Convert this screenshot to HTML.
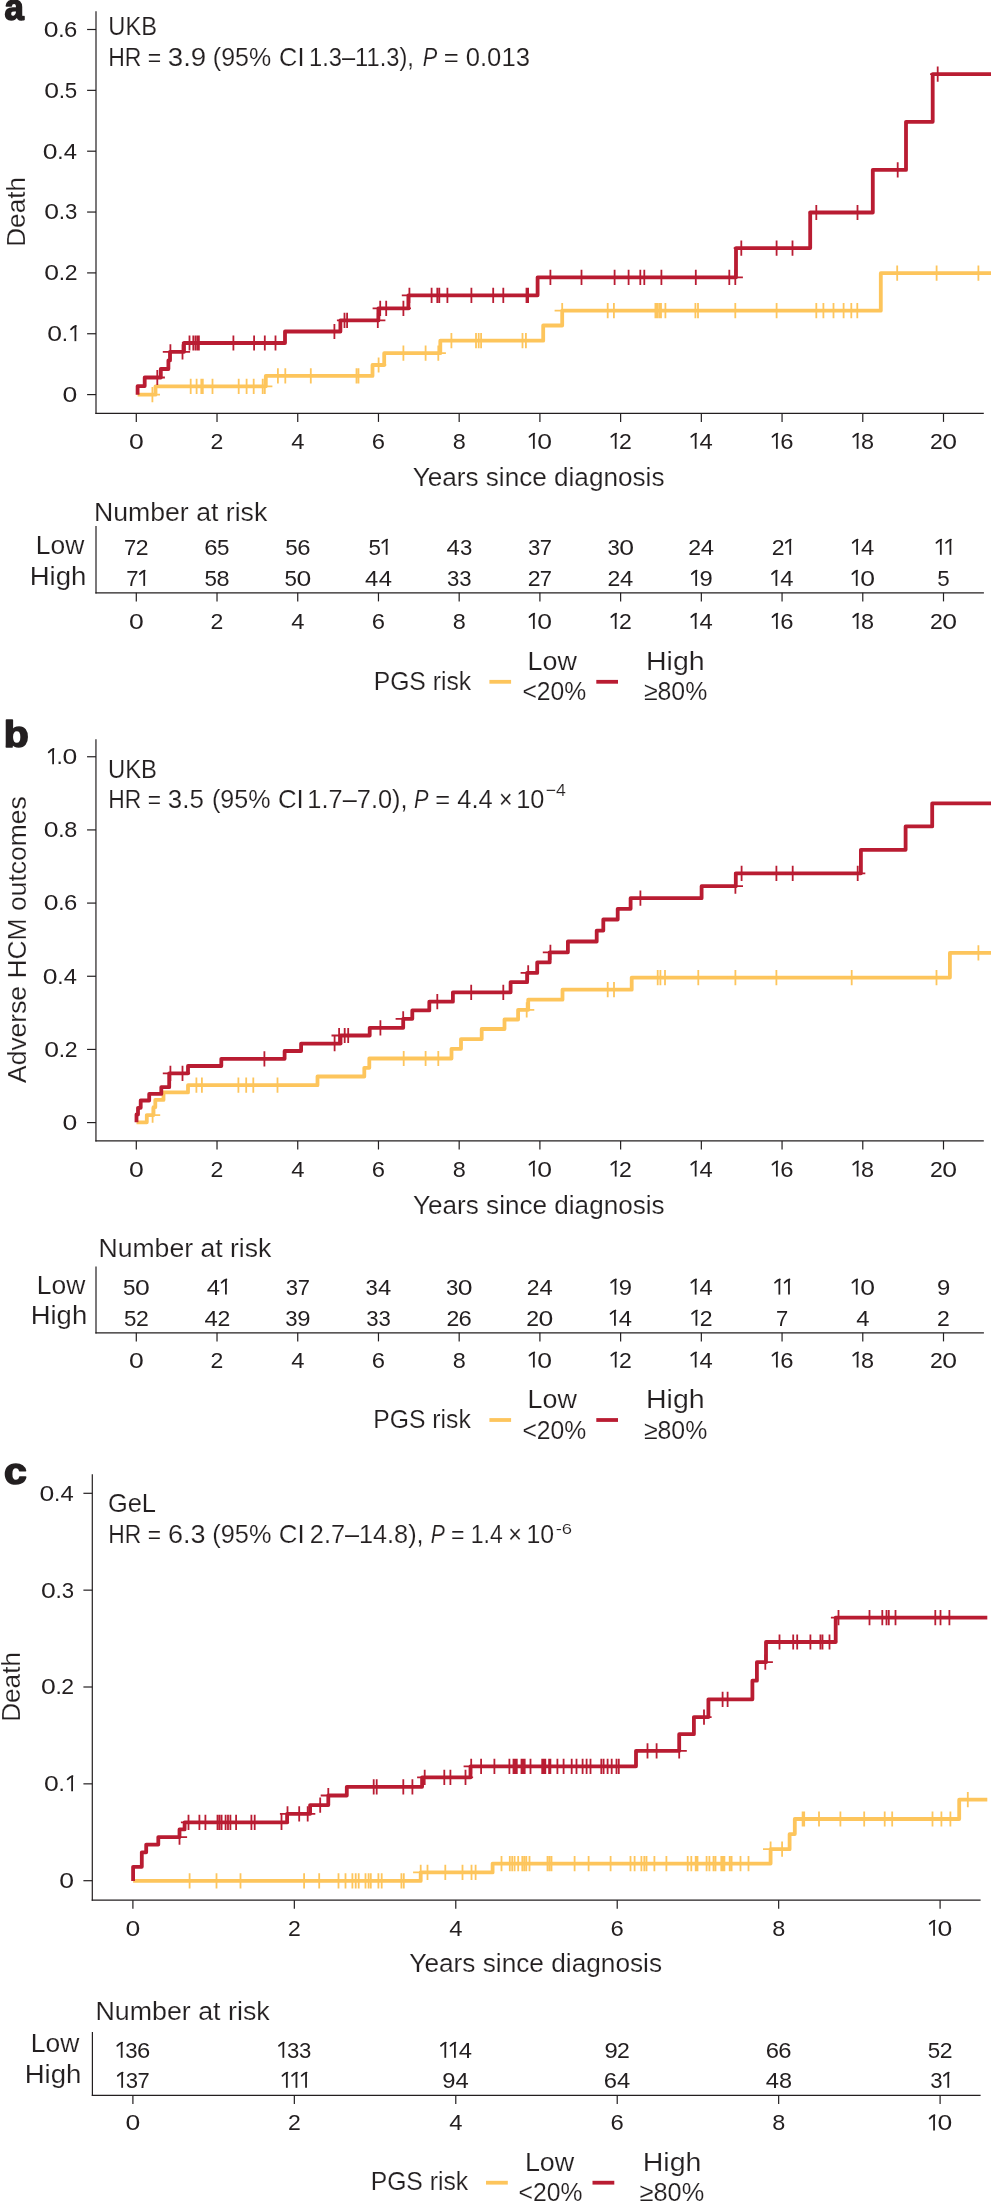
<!DOCTYPE html>
<html><head><meta charset="utf-8"><title>Kaplan-Meier curves</title>
<style>
html,body{margin:0;padding:0;background:#fff;overflow:hidden}
svg{display:block;will-change:transform}
text{font-family:"Liberation Sans",sans-serif;stroke:#fff;stroke-width:0.15px}
</style></head>
<body>
<svg width="991" height="2203" viewBox="0 0 991 2203">
<rect width="991" height="2203" fill="#fff"/>
<text transform="translate(4.54,20.00) scale(0.9474,1)" font-size="36.70" font-weight="bold" fill="#231f20" style="stroke:#231f20;stroke-width:1.6px;stroke-linejoin:round">a</text>
<line x1="96.00" y1="11.30" x2="96.00" y2="413.90" stroke="#231f20" stroke-width="1.2"/>
<line x1="95.40" y1="413.30" x2="983.80" y2="413.30" stroke="#231f20" stroke-width="1.2"/>
<line x1="87.10" y1="29.50" x2="96.00" y2="29.50" stroke="#231f20" stroke-width="1.2"/>
<text transform="translate(43.86,36.90) scale(1.1756,1)" font-size="22.60" fill="#231f20" style="stroke:none">0</text>
<text transform="translate(58.31,36.90) scale(1.0000,1)" font-size="22.60" fill="#231f20" style="stroke:none">.</text>
<text transform="translate(64.09,36.90) scale(1.0548,1)" font-size="22.60" fill="#231f20" style="stroke:none">6</text>
<line x1="87.10" y1="90.35" x2="96.00" y2="90.35" stroke="#231f20" stroke-width="1.2"/>
<text transform="translate(44.26,97.75) scale(1.1756,1)" font-size="22.60" fill="#231f20" style="stroke:none">0</text>
<text transform="translate(58.71,97.75) scale(1.0000,1)" font-size="22.60" fill="#231f20" style="stroke:none">.</text>
<text transform="translate(64.80,97.75) scale(0.9893,1)" font-size="22.60" fill="#231f20" style="stroke:none">5</text>
<line x1="87.10" y1="151.20" x2="96.00" y2="151.20" stroke="#231f20" stroke-width="1.2"/>
<text transform="translate(42.86,158.60) scale(1.1756,1)" font-size="22.60" fill="#231f20" style="stroke:none">0</text>
<text transform="translate(57.31,158.60) scale(1.0000,1)" font-size="22.60" fill="#231f20" style="stroke:none">.</text>
<text transform="translate(63.75,158.60) scale(1.0537,1)" font-size="22.60" fill="#231f20" style="stroke:none">4</text>
<line x1="87.10" y1="212.05" x2="96.00" y2="212.05" stroke="#231f20" stroke-width="1.2"/>
<text transform="translate(44.36,219.45) scale(1.1756,1)" font-size="22.60" fill="#231f20" style="stroke:none">0</text>
<text transform="translate(58.81,219.45) scale(1.0000,1)" font-size="22.60" fill="#231f20" style="stroke:none">.</text>
<text transform="translate(64.96,219.45) scale(0.9799,1)" font-size="22.60" fill="#231f20" style="stroke:none">3</text>
<line x1="87.10" y1="272.90" x2="96.00" y2="272.90" stroke="#231f20" stroke-width="1.2"/>
<text transform="translate(44.36,280.30) scale(1.1756,1)" font-size="22.60" fill="#231f20" style="stroke:none">0</text>
<text transform="translate(58.81,280.30) scale(1.0000,1)" font-size="22.60" fill="#231f20" style="stroke:none">.</text>
<text transform="translate(64.64,280.30) scale(1.0198,1)" font-size="22.60" fill="#231f20" style="stroke:none">2</text>
<line x1="87.10" y1="333.75" x2="96.00" y2="333.75" stroke="#231f20" stroke-width="1.2"/>
<text transform="translate(47.36,341.15) scale(1.1756,1)" font-size="22.60" fill="#231f20" style="stroke:none">0</text>
<text transform="translate(61.81,341.15) scale(1.0000,1)" font-size="22.60" fill="#231f20" style="stroke:none">.</text>
<path d="M75.40,341.15V325.70" stroke="#231f20" stroke-width="1.8" fill="none"/>
<path d="M75.90,325.90Q73.40,326.70 71.00,329.30" stroke="#231f20" stroke-width="1.7" fill="none" stroke-linecap="round"/>
<line x1="87.10" y1="394.60" x2="96.00" y2="394.60" stroke="#231f20" stroke-width="1.2"/>
<text transform="translate(62.56,402.00) scale(1.1756,1)" font-size="22.60" fill="#231f20" style="stroke:none">0</text>
<line x1="136.30" y1="413.30" x2="136.30" y2="421.90" stroke="#231f20" stroke-width="1.2"/>
<text transform="translate(128.91,448.80) scale(1.1756,1)" font-size="22.60" fill="#231f20" style="stroke:none">0</text>
<line x1="217.02" y1="413.30" x2="217.02" y2="421.90" stroke="#231f20" stroke-width="1.2"/>
<text transform="translate(210.61,448.80) scale(1.0198,1)" font-size="22.60" fill="#231f20" style="stroke:none">2</text>
<line x1="297.74" y1="413.30" x2="297.74" y2="421.90" stroke="#231f20" stroke-width="1.2"/>
<text transform="translate(291.19,448.80) scale(1.0537,1)" font-size="22.60" fill="#231f20" style="stroke:none">4</text>
<line x1="378.46" y1="413.30" x2="378.46" y2="421.90" stroke="#231f20" stroke-width="1.2"/>
<text transform="translate(371.75,448.80) scale(1.0548,1)" font-size="22.60" fill="#231f20" style="stroke:none">6</text>
<line x1="459.18" y1="413.30" x2="459.18" y2="421.90" stroke="#231f20" stroke-width="1.2"/>
<text transform="translate(452.66,448.80) scale(1.0373,1)" font-size="22.60" fill="#231f20" style="stroke:none">8</text>
<line x1="539.90" y1="413.30" x2="539.90" y2="421.90" stroke="#231f20" stroke-width="1.2"/>
<path d="M533.85,448.80V433.35" stroke="#231f20" stroke-width="1.8" fill="none"/>
<path d="M534.35,433.55Q531.85,434.35 529.45,436.95" stroke="#231f20" stroke-width="1.7" fill="none" stroke-linecap="round"/>
<text transform="translate(537.31,448.80) scale(1.1756,1)" font-size="22.60" fill="#231f20" style="stroke:none">0</text>
<line x1="620.62" y1="413.30" x2="620.62" y2="421.90" stroke="#231f20" stroke-width="1.2"/>
<path d="M615.67,448.80V433.35" stroke="#231f20" stroke-width="1.8" fill="none"/>
<path d="M616.17,433.55Q613.67,434.35 611.27,436.95" stroke="#231f20" stroke-width="1.7" fill="none" stroke-linecap="round"/>
<text transform="translate(619.01,448.80) scale(1.0198,1)" font-size="22.60" fill="#231f20" style="stroke:none">2</text>
<line x1="701.34" y1="413.30" x2="701.34" y2="421.90" stroke="#231f20" stroke-width="1.2"/>
<path d="M695.64,448.80V433.35" stroke="#231f20" stroke-width="1.8" fill="none"/>
<path d="M696.14,433.55Q693.64,434.35 691.24,436.95" stroke="#231f20" stroke-width="1.7" fill="none" stroke-linecap="round"/>
<text transform="translate(699.59,448.80) scale(1.0537,1)" font-size="22.60" fill="#231f20" style="stroke:none">4</text>
<line x1="782.06" y1="413.30" x2="782.06" y2="421.90" stroke="#231f20" stroke-width="1.2"/>
<path d="M776.86,448.80V433.35" stroke="#231f20" stroke-width="1.8" fill="none"/>
<path d="M777.36,433.55Q774.86,434.35 772.46,436.95" stroke="#231f20" stroke-width="1.7" fill="none" stroke-linecap="round"/>
<text transform="translate(780.15,448.80) scale(1.0548,1)" font-size="22.60" fill="#231f20" style="stroke:none">6</text>
<line x1="862.78" y1="413.30" x2="862.78" y2="421.90" stroke="#231f20" stroke-width="1.2"/>
<path d="M857.58,448.80V433.35" stroke="#231f20" stroke-width="1.8" fill="none"/>
<path d="M858.08,433.55Q855.58,434.35 853.18,436.95" stroke="#231f20" stroke-width="1.7" fill="none" stroke-linecap="round"/>
<text transform="translate(861.06,448.80) scale(1.0373,1)" font-size="22.60" fill="#231f20" style="stroke:none">8</text>
<line x1="943.50" y1="413.30" x2="943.50" y2="421.90" stroke="#231f20" stroke-width="1.2"/>
<text transform="translate(929.94,448.80) scale(1.0198,1)" font-size="22.60" fill="#231f20" style="stroke:none">2</text>
<text transform="translate(942.16,448.80) scale(1.1756,1)" font-size="22.60" fill="#231f20" style="stroke:none">0</text>
<text transform="translate(24.70,246.85) rotate(-90) scale(0.9892,1)" font-size="26.50" fill="#231f20">Death</text>
<text transform="translate(108.33,34.90) scale(0.9095,1)" font-size="26.00" fill="#231f20" >UKB</text>
<text transform="translate(108.21,65.90) scale(0.8843,1)" font-size="26.00" fill="#231f20" >HR =</text>
<text transform="translate(167.75,65.90) scale(1.0642,1)" font-size="26.00" fill="#231f20" >3.9</text>
<text transform="translate(212.85,65.90) scale(0.9595,1)" font-size="26.00" fill="#231f20" >(95%</text>
<text transform="translate(279.01,65.90) scale(0.9784,1)" font-size="26.00" fill="#231f20" >CI</text>
<text transform="translate(309.10,65.90) scale(0.9098,1)" font-size="26.00" fill="#231f20" >1.3–11.3),</text>
<text transform="translate(422.63,65.90) scale(0.8365,1)" font-size="26.00" font-style="italic" fill="#231f20" >P</text>
<text transform="translate(443.65,65.90) scale(0.9864,1)" font-size="26.00" fill="#231f20" >= 0.013</text>
<text transform="translate(412.63,485.50) scale(1.0055,1)" font-size="26.00" fill="#231f20" >Years since diagnosis</text>
<path d="M137.60,394.70H155.50V386.30H265.80V375.90H372.50V365.00H384.20V353.20H440.30V340.70H543.20V325.50H562.20V310.70H880.80V273.20H991.00" fill="none" stroke="#fdc55c" stroke-width="3.8" stroke-linejoin="round" stroke-linecap="butt"/>
<path d="M152.40,387.10V402.30M144.80,394.70H160.00M190.70,378.70V393.90M183.10,386.30H198.30M196.60,378.70V393.90M189.00,386.30H204.20M201.30,378.70V393.90M193.70,386.30H208.90M202.80,378.70V393.90M195.20,386.30H210.40M212.50,378.70V393.90M204.90,386.30H220.10M238.70,378.70V393.90M231.10,386.30H246.30M246.60,378.70V393.90M239.00,386.30H254.20M253.70,378.70V393.90M246.10,386.30H261.30M262.70,378.70V393.90M255.10,386.30H270.30M264.80,378.70V393.90M257.20,386.30H272.40M277.90,368.30V383.50M270.30,375.90H285.50M285.30,368.30V383.50M277.70,375.90H292.90M310.80,368.30V383.50M303.20,375.90H318.40M356.50,368.30V383.50M348.90,375.90H364.10M358.50,368.30V383.50M350.90,375.90H366.10M378.60,357.40V372.60M371.00,365.00H386.20M403.40,345.60V360.80M395.80,353.20H411.00M425.60,345.60V360.80M418.00,353.20H433.20M438.30,345.60V360.80M430.70,353.20H445.90M451.40,333.10V348.30M443.80,340.70H459.00M476.00,333.10V348.30M468.40,340.70H483.60M478.70,333.10V348.30M471.10,340.70H486.30M481.10,333.10V348.30M473.50,340.70H488.70M522.50,333.10V348.30M514.90,340.70H530.10M525.90,333.10V348.30M518.30,340.70H533.50M562.20,303.10V318.30M554.60,310.70H569.80M607.70,303.10V318.30M600.10,310.70H615.30M613.90,303.10V318.30M606.30,310.70H621.50M655.40,303.10V318.30M647.80,310.70H663.00M657.20,303.10V318.30M649.60,310.70H664.80M659.20,303.10V318.30M651.60,310.70H666.80M661.00,303.10V318.30M653.40,310.70H668.60M665.40,303.10V318.30M657.80,310.70H673.00M695.40,303.10V318.30M687.80,310.70H703.00M698.00,303.10V318.30M690.40,310.70H705.60M735.30,303.10V318.30M727.70,310.70H742.90M776.60,303.10V318.30M769.00,310.70H784.20M816.30,303.10V318.30M808.70,310.70H823.90M823.40,303.10V318.30M815.80,310.70H831.00M833.50,303.10V318.30M825.90,310.70H841.10M843.60,303.10V318.30M836.00,310.70H851.20M851.30,303.10V318.30M843.70,310.70H858.90M857.30,303.10V318.30M849.70,310.70H864.90M897.20,265.60V280.80M889.60,273.20H904.80M936.60,265.60V280.80M929.00,273.20H944.20M978.40,265.60V280.80M970.80,273.20H986.00" fill="none" stroke="#fdc55c" stroke-width="1.8"/>
<path d="M137.60,394.70V386.10H144.70V377.50H160.80V369.00H168.40V360.40H170.00V351.80H184.00V343.00H285.00V331.50H340.40V320.40H378.40V308.40H408.40V295.30H537.60V277.30H736.00V248.10H810.20V212.50H872.80V169.90H906.00V121.80H932.70V74.10H991.00" fill="none" stroke="#b91c32" stroke-width="3.8" stroke-linejoin="round" stroke-linecap="butt"/>
<path d="M157.30,369.90V385.10M149.70,377.50H164.90M170.40,344.20V359.40M162.80,351.80H178.00M182.50,344.20V359.40M174.90,351.80H190.10M189.50,335.40V350.60M181.90,343.00H197.10M193.30,335.40V350.60M185.70,343.00H200.90M195.50,335.40V350.60M187.90,343.00H203.10M197.50,335.40V350.60M189.90,343.00H205.10M198.90,335.40V350.60M191.30,343.00H206.50M233.40,335.40V350.60M225.80,343.00H241.00M254.10,335.40V350.60M246.50,343.00H261.70M264.80,335.40V350.60M257.20,343.00H272.40M275.50,335.40V350.60M267.90,343.00H283.10M334.40,323.90V339.10M326.80,331.50H342.00M344.50,312.80V328.00M336.90,320.40H352.10M347.10,312.80V328.00M339.50,320.40H354.70M377.80,312.80V328.00M370.20,320.40H385.40M380.20,300.80V316.00M372.60,308.40H387.80M386.20,300.80V316.00M378.60,308.40H393.80M403.40,300.80V316.00M395.80,308.40H411.00M409.40,287.70V302.90M401.80,295.30H417.00M431.60,287.70V302.90M424.00,295.30H439.20M437.30,287.70V302.90M429.70,295.30H444.90M439.30,287.70V302.90M431.70,295.30H446.90M447.40,287.70V302.90M439.80,295.30H455.00M471.40,287.70V302.90M463.80,295.30H479.00M493.20,287.70V302.90M485.60,295.30H500.80M503.30,287.70V302.90M495.70,295.30H510.90M526.50,287.70V302.90M518.90,295.30H534.10M528.10,287.70V302.90M520.50,295.30H535.70M550.40,269.70V284.90M542.80,277.30H558.00M581.50,269.70V284.90M573.90,277.30H589.10M614.60,269.70V284.90M607.00,277.30H622.20M628.60,269.70V284.90M621.00,277.30H636.20M640.30,269.70V284.90M632.70,277.30H647.90M644.30,269.70V284.90M636.70,277.30H651.90M661.40,269.70V284.90M653.80,277.30H669.00M695.80,269.70V284.90M688.20,277.30H703.40M729.30,269.70V284.90M721.70,277.30H736.90M735.30,269.70V284.90M727.70,277.30H742.90M741.30,240.50V255.70M733.70,248.10H748.90M776.60,240.50V255.70M769.00,248.10H784.20M792.50,240.50V255.70M784.90,248.10H800.10M816.30,204.90V220.10M808.70,212.50H823.90M857.50,204.90V220.10M849.90,212.50H865.10M897.70,162.30V177.50M890.10,169.90H905.30M937.70,66.50V81.70M930.10,74.10H945.30" fill="none" stroke="#b91c32" stroke-width="1.8"/>
<text transform="translate(93.91,520.70) scale(1.0255,1)" font-size="26.00" fill="#231f20" >Number at risk</text>
<text transform="translate(35.73,554.05) scale(1.0169,1)" font-size="26.00" fill="#231f20" >Low</text>
<text transform="translate(29.64,584.90) scale(1.0614,1)" font-size="26.00" fill="#231f20" >High</text>
<line x1="96.00" y1="526.00" x2="96.00" y2="593.40" stroke="#231f20" stroke-width="1.2"/>
<line x1="95.40" y1="592.80" x2="983.90" y2="592.80" stroke="#231f20" stroke-width="1.2"/>
<line x1="136.30" y1="592.80" x2="136.30" y2="601.40" stroke="#231f20" stroke-width="1.2"/>
<text transform="translate(128.91,628.90) scale(1.1756,1)" font-size="22.60" fill="#231f20" style="stroke:none">0</text>
<line x1="217.02" y1="592.80" x2="217.02" y2="601.40" stroke="#231f20" stroke-width="1.2"/>
<text transform="translate(210.61,628.90) scale(1.0198,1)" font-size="22.60" fill="#231f20" style="stroke:none">2</text>
<line x1="297.74" y1="592.80" x2="297.74" y2="601.40" stroke="#231f20" stroke-width="1.2"/>
<text transform="translate(291.19,628.90) scale(1.0537,1)" font-size="22.60" fill="#231f20" style="stroke:none">4</text>
<line x1="378.46" y1="592.80" x2="378.46" y2="601.40" stroke="#231f20" stroke-width="1.2"/>
<text transform="translate(371.75,628.90) scale(1.0548,1)" font-size="22.60" fill="#231f20" style="stroke:none">6</text>
<line x1="459.18" y1="592.80" x2="459.18" y2="601.40" stroke="#231f20" stroke-width="1.2"/>
<text transform="translate(452.66,628.90) scale(1.0373,1)" font-size="22.60" fill="#231f20" style="stroke:none">8</text>
<line x1="539.90" y1="592.80" x2="539.90" y2="601.40" stroke="#231f20" stroke-width="1.2"/>
<path d="M533.85,628.90V613.45" stroke="#231f20" stroke-width="1.8" fill="none"/>
<path d="M534.35,613.65Q531.85,614.45 529.45,617.05" stroke="#231f20" stroke-width="1.7" fill="none" stroke-linecap="round"/>
<text transform="translate(537.31,628.90) scale(1.1756,1)" font-size="22.60" fill="#231f20" style="stroke:none">0</text>
<line x1="620.62" y1="592.80" x2="620.62" y2="601.40" stroke="#231f20" stroke-width="1.2"/>
<path d="M615.67,628.90V613.45" stroke="#231f20" stroke-width="1.8" fill="none"/>
<path d="M616.17,613.65Q613.67,614.45 611.27,617.05" stroke="#231f20" stroke-width="1.7" fill="none" stroke-linecap="round"/>
<text transform="translate(619.01,628.90) scale(1.0198,1)" font-size="22.60" fill="#231f20" style="stroke:none">2</text>
<line x1="701.34" y1="592.80" x2="701.34" y2="601.40" stroke="#231f20" stroke-width="1.2"/>
<path d="M695.64,628.90V613.45" stroke="#231f20" stroke-width="1.8" fill="none"/>
<path d="M696.14,613.65Q693.64,614.45 691.24,617.05" stroke="#231f20" stroke-width="1.7" fill="none" stroke-linecap="round"/>
<text transform="translate(699.59,628.90) scale(1.0537,1)" font-size="22.60" fill="#231f20" style="stroke:none">4</text>
<line x1="782.06" y1="592.80" x2="782.06" y2="601.40" stroke="#231f20" stroke-width="1.2"/>
<path d="M776.86,628.90V613.45" stroke="#231f20" stroke-width="1.8" fill="none"/>
<path d="M777.36,613.65Q774.86,614.45 772.46,617.05" stroke="#231f20" stroke-width="1.7" fill="none" stroke-linecap="round"/>
<text transform="translate(780.15,628.90) scale(1.0548,1)" font-size="22.60" fill="#231f20" style="stroke:none">6</text>
<line x1="862.78" y1="592.80" x2="862.78" y2="601.40" stroke="#231f20" stroke-width="1.2"/>
<path d="M857.58,628.90V613.45" stroke="#231f20" stroke-width="1.8" fill="none"/>
<path d="M858.08,613.65Q855.58,614.45 853.18,617.05" stroke="#231f20" stroke-width="1.7" fill="none" stroke-linecap="round"/>
<text transform="translate(861.06,628.90) scale(1.0373,1)" font-size="22.60" fill="#231f20" style="stroke:none">8</text>
<line x1="943.50" y1="592.80" x2="943.50" y2="601.40" stroke="#231f20" stroke-width="1.2"/>
<text transform="translate(929.94,628.90) scale(1.0198,1)" font-size="22.60" fill="#231f20" style="stroke:none">2</text>
<text transform="translate(942.16,628.90) scale(1.1756,1)" font-size="22.60" fill="#231f20" style="stroke:none">0</text>
<text transform="translate(124.12,554.80) scale(0.9734,1)" font-size="22.60" fill="#231f20" style="stroke:none">7</text>
<text transform="translate(135.69,554.80) scale(1.0198,1)" font-size="22.60" fill="#231f20" style="stroke:none">2</text>
<text transform="translate(204.21,554.80) scale(1.0548,1)" font-size="22.60" fill="#231f20" style="stroke:none">6</text>
<text transform="translate(217.12,554.80) scale(0.9893,1)" font-size="22.60" fill="#231f20" style="stroke:none">5</text>
<text transform="translate(285.24,554.80) scale(0.9893,1)" font-size="22.60" fill="#231f20" style="stroke:none">5</text>
<text transform="translate(297.13,554.80) scale(1.0548,1)" font-size="22.60" fill="#231f20" style="stroke:none">6</text>
<text transform="translate(368.46,554.80) scale(0.9893,1)" font-size="22.60" fill="#231f20" style="stroke:none">5</text>
<path d="M386.66,554.80V539.35" stroke="#231f20" stroke-width="1.8" fill="none"/>
<path d="M387.16,539.55Q384.66,540.35 382.26,542.95" stroke="#231f20" stroke-width="1.7" fill="none" stroke-linecap="round"/>
<text transform="translate(446.58,554.80) scale(1.0537,1)" font-size="22.60" fill="#231f20" style="stroke:none">4</text>
<text transform="translate(459.89,554.80) scale(0.9799,1)" font-size="22.60" fill="#231f20" style="stroke:none">3</text>
<text transform="translate(528.01,554.80) scale(0.9799,1)" font-size="22.60" fill="#231f20" style="stroke:none">3</text>
<text transform="translate(539.82,554.80) scale(0.9734,1)" font-size="22.60" fill="#231f20" style="stroke:none">7</text>
<text transform="translate(607.38,554.80) scale(0.9799,1)" font-size="22.60" fill="#231f20" style="stroke:none">3</text>
<text transform="translate(619.28,554.80) scale(1.1756,1)" font-size="22.60" fill="#231f20" style="stroke:none">0</text>
<text transform="translate(688.13,554.80) scale(1.0198,1)" font-size="22.60" fill="#231f20" style="stroke:none">2</text>
<text transform="translate(700.84,554.80) scale(1.0537,1)" font-size="22.60" fill="#231f20" style="stroke:none">4</text>
<text transform="translate(771.85,554.80) scale(1.0198,1)" font-size="22.60" fill="#231f20" style="stroke:none">2</text>
<path d="M790.21,554.80V539.35" stroke="#231f20" stroke-width="1.8" fill="none"/>
<path d="M790.71,539.55Q788.21,540.35 785.81,542.95" stroke="#231f20" stroke-width="1.7" fill="none" stroke-linecap="round"/>
<path d="M857.08,554.80V539.35" stroke="#231f20" stroke-width="1.8" fill="none"/>
<path d="M857.58,539.55Q855.08,540.35 852.68,542.95" stroke="#231f20" stroke-width="1.7" fill="none" stroke-linecap="round"/>
<text transform="translate(861.03,554.80) scale(1.0537,1)" font-size="22.60" fill="#231f20" style="stroke:none">4</text>
<path d="M940.80,554.80V539.35" stroke="#231f20" stroke-width="1.8" fill="none"/>
<path d="M941.30,539.55Q938.80,540.35 936.40,542.95" stroke="#231f20" stroke-width="1.7" fill="none" stroke-linecap="round"/>
<path d="M950.40,554.80V539.35" stroke="#231f20" stroke-width="1.8" fill="none"/>
<path d="M950.90,539.55Q948.40,540.35 946.00,542.95" stroke="#231f20" stroke-width="1.7" fill="none" stroke-linecap="round"/>
<text transform="translate(126.37,585.90) scale(0.9734,1)" font-size="22.60" fill="#231f20" style="stroke:none">7</text>
<path d="M144.20,585.90V570.45" stroke="#231f20" stroke-width="1.8" fill="none"/>
<path d="M144.70,570.65Q142.20,571.45 139.80,574.05" stroke="#231f20" stroke-width="1.7" fill="none" stroke-linecap="round"/>
<text transform="translate(204.52,585.90) scale(0.9893,1)" font-size="22.60" fill="#231f20" style="stroke:none">5</text>
<text transform="translate(216.60,585.90) scale(1.0373,1)" font-size="22.60" fill="#231f20" style="stroke:none">8</text>
<text transform="translate(284.39,585.90) scale(0.9893,1)" font-size="22.60" fill="#231f20" style="stroke:none">5</text>
<text transform="translate(296.45,585.90) scale(1.1756,1)" font-size="22.60" fill="#231f20" style="stroke:none">0</text>
<text transform="translate(365.11,585.90) scale(1.0537,1)" font-size="22.60" fill="#231f20" style="stroke:none">4</text>
<text transform="translate(378.71,585.90) scale(1.0537,1)" font-size="22.60" fill="#231f20" style="stroke:none">4</text>
<text transform="translate(447.04,585.90) scale(0.9799,1)" font-size="22.60" fill="#231f20" style="stroke:none">3</text>
<text transform="translate(459.14,585.90) scale(0.9799,1)" font-size="22.60" fill="#231f20" style="stroke:none">3</text>
<text transform="translate(527.69,585.90) scale(1.0198,1)" font-size="22.60" fill="#231f20" style="stroke:none">2</text>
<text transform="translate(539.82,585.90) scale(0.9734,1)" font-size="22.60" fill="#231f20" style="stroke:none">7</text>
<text transform="translate(607.41,585.90) scale(1.0198,1)" font-size="22.60" fill="#231f20" style="stroke:none">2</text>
<text transform="translate(620.12,585.90) scale(1.0537,1)" font-size="22.60" fill="#231f20" style="stroke:none">4</text>
<path d="M696.14,585.90V570.45" stroke="#231f20" stroke-width="1.8" fill="none"/>
<path d="M696.64,570.65Q694.14,571.45 691.74,574.05" stroke="#231f20" stroke-width="1.7" fill="none" stroke-linecap="round"/>
<text transform="translate(699.52,585.90) scale(1.0537,1)" font-size="22.60" fill="#231f20" style="stroke:none">9</text>
<path d="M776.36,585.90V570.45" stroke="#231f20" stroke-width="1.8" fill="none"/>
<path d="M776.86,570.65Q774.36,571.45 771.96,574.05" stroke="#231f20" stroke-width="1.7" fill="none" stroke-linecap="round"/>
<text transform="translate(780.31,585.90) scale(1.0537,1)" font-size="22.60" fill="#231f20" style="stroke:none">4</text>
<path d="M856.73,585.90V570.45" stroke="#231f20" stroke-width="1.8" fill="none"/>
<path d="M857.23,570.65Q854.73,571.45 852.33,574.05" stroke="#231f20" stroke-width="1.7" fill="none" stroke-linecap="round"/>
<text transform="translate(860.19,585.90) scale(1.1756,1)" font-size="22.60" fill="#231f20" style="stroke:none">0</text>
<text transform="translate(937.30,585.90) scale(0.9893,1)" font-size="22.60" fill="#231f20" style="stroke:none">5</text>
<text transform="translate(373.67,690.00) scale(0.9505,1)" font-size="26.00" fill="#231f20" >PGS risk</text>
<line x1="489.40" y1="681.80" x2="511.10" y2="681.80" stroke="#fdc55c" stroke-width="3.8"/>
<line x1="596.30" y1="681.80" x2="618.00" y2="681.80" stroke="#b91c32" stroke-width="3.8"/>
<text transform="translate(527.59,669.90) scale(1.0345,1)" font-size="26.00" fill="#231f20" >Low</text>
<text transform="translate(522.38,700.40) scale(0.9506,1)" font-size="26.00" fill="#231f20" >&lt;20%</text>
<text transform="translate(645.96,669.90) scale(1.0977,1)" font-size="26.00" fill="#231f20" >High</text>
<text transform="translate(643.91,700.40) scale(0.9558,1)" font-size="26.00" fill="#231f20" >≥80%</text>
<text transform="translate(3.85,746.64) scale(1.1136,1)" font-size="36.80" font-weight="bold" fill="#231f20" style="stroke:#231f20;stroke-width:1.6px;stroke-linejoin:round">b</text>
<line x1="95.95" y1="739.20" x2="95.95" y2="1141.50" stroke="#231f20" stroke-width="1.2"/>
<line x1="95.35" y1="1140.90" x2="983.80" y2="1140.90" stroke="#231f20" stroke-width="1.2"/>
<line x1="87.05" y1="756.75" x2="95.95" y2="756.75" stroke="#231f20" stroke-width="1.2"/>
<path d="M53.10,764.15V748.70" stroke="#231f20" stroke-width="1.8" fill="none"/>
<path d="M53.60,748.90Q51.10,749.70 48.70,752.30" stroke="#231f20" stroke-width="1.7" fill="none" stroke-linecap="round"/>
<text transform="translate(56.56,764.15) scale(1.0000,1)" font-size="22.60" fill="#231f20" style="stroke:none">.</text>
<text transform="translate(62.56,764.15) scale(1.1756,1)" font-size="22.60" fill="#231f20" style="stroke:none">0</text>
<line x1="87.05" y1="829.92" x2="95.95" y2="829.92" stroke="#231f20" stroke-width="1.2"/>
<text transform="translate(43.86,837.32) scale(1.1756,1)" font-size="22.60" fill="#231f20" style="stroke:none">0</text>
<text transform="translate(58.31,837.32) scale(1.0000,1)" font-size="22.60" fill="#231f20" style="stroke:none">.</text>
<text transform="translate(64.28,837.32) scale(1.0373,1)" font-size="22.60" fill="#231f20" style="stroke:none">8</text>
<line x1="87.05" y1="903.09" x2="95.95" y2="903.09" stroke="#231f20" stroke-width="1.2"/>
<text transform="translate(43.86,910.49) scale(1.1756,1)" font-size="22.60" fill="#231f20" style="stroke:none">0</text>
<text transform="translate(58.31,910.49) scale(1.0000,1)" font-size="22.60" fill="#231f20" style="stroke:none">.</text>
<text transform="translate(64.09,910.49) scale(1.0548,1)" font-size="22.60" fill="#231f20" style="stroke:none">6</text>
<line x1="87.05" y1="976.26" x2="95.95" y2="976.26" stroke="#231f20" stroke-width="1.2"/>
<text transform="translate(42.86,983.66) scale(1.1756,1)" font-size="22.60" fill="#231f20" style="stroke:none">0</text>
<text transform="translate(57.31,983.66) scale(1.0000,1)" font-size="22.60" fill="#231f20" style="stroke:none">.</text>
<text transform="translate(63.75,983.66) scale(1.0537,1)" font-size="22.60" fill="#231f20" style="stroke:none">4</text>
<line x1="87.05" y1="1049.43" x2="95.95" y2="1049.43" stroke="#231f20" stroke-width="1.2"/>
<text transform="translate(44.36,1056.83) scale(1.1756,1)" font-size="22.60" fill="#231f20" style="stroke:none">0</text>
<text transform="translate(58.81,1056.83) scale(1.0000,1)" font-size="22.60" fill="#231f20" style="stroke:none">.</text>
<text transform="translate(64.64,1056.83) scale(1.0198,1)" font-size="22.60" fill="#231f20" style="stroke:none">2</text>
<line x1="87.05" y1="1122.60" x2="95.95" y2="1122.60" stroke="#231f20" stroke-width="1.2"/>
<text transform="translate(62.56,1130.00) scale(1.1756,1)" font-size="22.60" fill="#231f20" style="stroke:none">0</text>
<line x1="136.30" y1="1140.90" x2="136.30" y2="1149.50" stroke="#231f20" stroke-width="1.2"/>
<text transform="translate(128.91,1176.50) scale(1.1756,1)" font-size="22.60" fill="#231f20" style="stroke:none">0</text>
<line x1="217.02" y1="1140.90" x2="217.02" y2="1149.50" stroke="#231f20" stroke-width="1.2"/>
<text transform="translate(210.61,1176.50) scale(1.0198,1)" font-size="22.60" fill="#231f20" style="stroke:none">2</text>
<line x1="297.74" y1="1140.90" x2="297.74" y2="1149.50" stroke="#231f20" stroke-width="1.2"/>
<text transform="translate(291.19,1176.50) scale(1.0537,1)" font-size="22.60" fill="#231f20" style="stroke:none">4</text>
<line x1="378.46" y1="1140.90" x2="378.46" y2="1149.50" stroke="#231f20" stroke-width="1.2"/>
<text transform="translate(371.75,1176.50) scale(1.0548,1)" font-size="22.60" fill="#231f20" style="stroke:none">6</text>
<line x1="459.18" y1="1140.90" x2="459.18" y2="1149.50" stroke="#231f20" stroke-width="1.2"/>
<text transform="translate(452.66,1176.50) scale(1.0373,1)" font-size="22.60" fill="#231f20" style="stroke:none">8</text>
<line x1="539.90" y1="1140.90" x2="539.90" y2="1149.50" stroke="#231f20" stroke-width="1.2"/>
<path d="M533.85,1176.50V1161.05" stroke="#231f20" stroke-width="1.8" fill="none"/>
<path d="M534.35,1161.25Q531.85,1162.05 529.45,1164.65" stroke="#231f20" stroke-width="1.7" fill="none" stroke-linecap="round"/>
<text transform="translate(537.31,1176.50) scale(1.1756,1)" font-size="22.60" fill="#231f20" style="stroke:none">0</text>
<line x1="620.62" y1="1140.90" x2="620.62" y2="1149.50" stroke="#231f20" stroke-width="1.2"/>
<path d="M615.67,1176.50V1161.05" stroke="#231f20" stroke-width="1.8" fill="none"/>
<path d="M616.17,1161.25Q613.67,1162.05 611.27,1164.65" stroke="#231f20" stroke-width="1.7" fill="none" stroke-linecap="round"/>
<text transform="translate(619.01,1176.50) scale(1.0198,1)" font-size="22.60" fill="#231f20" style="stroke:none">2</text>
<line x1="701.34" y1="1140.90" x2="701.34" y2="1149.50" stroke="#231f20" stroke-width="1.2"/>
<path d="M695.64,1176.50V1161.05" stroke="#231f20" stroke-width="1.8" fill="none"/>
<path d="M696.14,1161.25Q693.64,1162.05 691.24,1164.65" stroke="#231f20" stroke-width="1.7" fill="none" stroke-linecap="round"/>
<text transform="translate(699.59,1176.50) scale(1.0537,1)" font-size="22.60" fill="#231f20" style="stroke:none">4</text>
<line x1="782.06" y1="1140.90" x2="782.06" y2="1149.50" stroke="#231f20" stroke-width="1.2"/>
<path d="M776.86,1176.50V1161.05" stroke="#231f20" stroke-width="1.8" fill="none"/>
<path d="M777.36,1161.25Q774.86,1162.05 772.46,1164.65" stroke="#231f20" stroke-width="1.7" fill="none" stroke-linecap="round"/>
<text transform="translate(780.15,1176.50) scale(1.0548,1)" font-size="22.60" fill="#231f20" style="stroke:none">6</text>
<line x1="862.78" y1="1140.90" x2="862.78" y2="1149.50" stroke="#231f20" stroke-width="1.2"/>
<path d="M857.58,1176.50V1161.05" stroke="#231f20" stroke-width="1.8" fill="none"/>
<path d="M858.08,1161.25Q855.58,1162.05 853.18,1164.65" stroke="#231f20" stroke-width="1.7" fill="none" stroke-linecap="round"/>
<text transform="translate(861.06,1176.50) scale(1.0373,1)" font-size="22.60" fill="#231f20" style="stroke:none">8</text>
<line x1="943.50" y1="1140.90" x2="943.50" y2="1149.50" stroke="#231f20" stroke-width="1.2"/>
<text transform="translate(929.94,1176.50) scale(1.0198,1)" font-size="22.60" fill="#231f20" style="stroke:none">2</text>
<text transform="translate(942.16,1176.50) scale(1.1756,1)" font-size="22.60" fill="#231f20" style="stroke:none">0</text>
<text transform="translate(26.00,1082.95) rotate(-90) scale(0.9984,1)" font-size="26.50" fill="#231f20">Adverse HCM outcomes</text>
<text transform="translate(107.96,778.00) scale(0.9165,1)" font-size="26.00" fill="#231f20" >UKB</text>
<text transform="translate(108.33,807.60) scale(0.8789,1)" font-size="26.00" fill="#231f20" >HR =</text>
<text transform="translate(167.81,807.60) scale(0.9953,1)" font-size="26.00" fill="#231f20" >3.5</text>
<text transform="translate(211.94,807.60) scale(0.9646,1)" font-size="26.00" fill="#231f20" >(95%</text>
<text transform="translate(277.88,807.60) scale(0.9964,1)" font-size="26.00" fill="#231f20" >CI</text>
<text transform="translate(307.37,807.60) scale(0.9765,1)" font-size="26.00" fill="#231f20" >1.7–7.0),</text>
<text transform="translate(414.03,807.60) scale(0.8365,1)" font-size="26.00" font-style="italic" fill="#231f20" >P</text>
<text transform="translate(435.25,807.60) scale(0.9820,1)" font-size="26.00" fill="#231f20" >= 4.4</text>
<text transform="translate(498.90,807.60) scale(0.8886,1)" font-size="26.00" fill="#231f20" >×</text>
<text transform="translate(516.27,807.60) scale(0.9759,1)" font-size="26.00" fill="#231f20" >10</text>
<text transform="translate(545.63,796.20) scale(1.0418,1)" font-size="17.00" fill="#231f20" >−4</text>
<text transform="translate(413.03,1213.90) scale(1.0048,1)" font-size="26.00" fill="#231f20" >Years since diagnosis</text>
<path d="M136.50,1122.30H146.80V1115.10H153.50V1107.20H155.30V1099.90H163.50V1092.40H188.00V1085.20H317.50V1076.50H364.30V1067.80H369.30V1058.50H451.50V1048.80H461.00V1039.10H481.70V1029.00H504.50V1019.50H518.10V1009.80H528.20V999.70H562.50V989.70H631.70V977.60H949.90V952.90H991.00" fill="none" stroke="#fdc55c" stroke-width="3.8" stroke-linejoin="round" stroke-linecap="butt"/>
<path d="M152.60,1107.50V1122.70M145.00,1115.10H160.20M196.40,1077.60V1092.80M188.80,1085.20H204.00M201.90,1077.60V1092.80M194.30,1085.20H209.50M238.40,1077.60V1092.80M230.80,1085.20H246.00M246.20,1077.60V1092.80M238.60,1085.20H253.80M253.30,1077.60V1092.80M245.70,1085.20H260.90M277.50,1077.60V1092.80M269.90,1085.20H285.10M403.70,1050.90V1066.10M396.10,1058.50H411.30M425.60,1050.90V1066.10M418.00,1058.50H433.20M438.30,1050.90V1066.10M430.70,1058.50H445.90M526.70,1002.20V1017.40M519.10,1009.80H534.30M607.70,982.10V997.30M600.10,989.70H615.30M614.00,982.10V997.30M606.40,989.70H621.60M657.70,970.00V985.20M650.10,977.60H665.30M660.40,970.00V985.20M652.80,977.60H668.00M665.00,970.00V985.20M657.40,977.60H672.60M698.30,970.00V985.20M690.70,977.60H705.90M735.40,970.00V985.20M727.80,977.60H743.00M776.40,970.00V985.20M768.80,977.60H784.00M851.70,970.00V985.20M844.10,977.60H859.30M936.50,970.00V985.20M928.90,977.60H944.10M978.40,945.30V960.50M970.80,952.90H986.00" fill="none" stroke="#fdc55c" stroke-width="1.8"/>
<path d="M136.50,1122.30V1114.50H138.00V1107.80H140.70V1100.50H149.20V1093.90H161.30V1087.20H169.20V1073.30H188.00V1066.00H221.30V1058.80H284.60V1051.00H301.10V1043.60H340.50V1035.50H369.70V1027.80H403.20V1018.80H412.30V1010.40H429.30V1001.70H452.90V992.30H510.60V982.20H527.10V972.90H537.20V962.40H549.70V952.30H567.90V941.50H596.70V930.60H603.30V919.50H617.70V908.80H630.60V898.20H701.60V886.20H735.80V873.30H860.90V849.80H905.60V826.40H932.20V803.40H991.00" fill="none" stroke="#b91c32" stroke-width="3.8" stroke-linejoin="round" stroke-linecap="butt"/>
<path d="M170.40,1065.70V1080.90M162.80,1073.30H178.00M182.50,1065.70V1080.90M174.90,1073.30H190.10M264.40,1051.20V1066.40M256.80,1058.80H272.00M334.60,1036.00V1051.20M327.00,1043.60H342.20M339.10,1027.90V1043.10M331.50,1035.50H346.70M344.70,1027.90V1043.10M337.10,1035.50H352.30M348.20,1027.90V1043.10M340.60,1035.50H355.80M380.40,1020.20V1035.40M372.80,1027.80H388.00M403.20,1011.20V1026.40M395.60,1018.80H410.80M437.30,994.10V1009.30M429.70,1001.70H444.90M471.20,984.70V999.90M463.60,992.30H478.80M503.30,984.70V999.90M495.70,992.30H510.90M528.20,965.30V980.50M520.60,972.90H535.80M550.40,944.70V959.90M542.80,952.30H558.00M640.40,890.60V905.80M632.80,898.20H648.00M735.40,878.60V893.80M727.80,886.20H743.00M741.60,865.70V880.90M734.00,873.30H749.20M776.40,865.70V880.90M768.80,873.30H784.00M792.70,865.70V880.90M785.10,873.30H800.30M857.70,865.70V880.90M850.10,873.30H865.30" fill="none" stroke="#b91c32" stroke-width="1.8"/>
<text transform="translate(98.42,1256.80) scale(1.0237,1)" font-size="26.00" fill="#231f20" >Number at risk</text>
<text transform="translate(36.83,1294.10) scale(1.0169,1)" font-size="26.00" fill="#231f20" >Low</text>
<text transform="translate(30.64,1323.70) scale(1.0574,1)" font-size="26.00" fill="#231f20" >High</text>
<line x1="96.00" y1="1266.40" x2="96.00" y2="1333.40" stroke="#231f20" stroke-width="1.2"/>
<line x1="95.40" y1="1332.80" x2="983.90" y2="1332.80" stroke="#231f20" stroke-width="1.2"/>
<line x1="136.30" y1="1332.80" x2="136.30" y2="1341.40" stroke="#231f20" stroke-width="1.2"/>
<text transform="translate(128.91,1367.50) scale(1.1756,1)" font-size="22.60" fill="#231f20" style="stroke:none">0</text>
<line x1="217.02" y1="1332.80" x2="217.02" y2="1341.40" stroke="#231f20" stroke-width="1.2"/>
<text transform="translate(210.61,1367.50) scale(1.0198,1)" font-size="22.60" fill="#231f20" style="stroke:none">2</text>
<line x1="297.74" y1="1332.80" x2="297.74" y2="1341.40" stroke="#231f20" stroke-width="1.2"/>
<text transform="translate(291.19,1367.50) scale(1.0537,1)" font-size="22.60" fill="#231f20" style="stroke:none">4</text>
<line x1="378.46" y1="1332.80" x2="378.46" y2="1341.40" stroke="#231f20" stroke-width="1.2"/>
<text transform="translate(371.75,1367.50) scale(1.0548,1)" font-size="22.60" fill="#231f20" style="stroke:none">6</text>
<line x1="459.18" y1="1332.80" x2="459.18" y2="1341.40" stroke="#231f20" stroke-width="1.2"/>
<text transform="translate(452.66,1367.50) scale(1.0373,1)" font-size="22.60" fill="#231f20" style="stroke:none">8</text>
<line x1="539.90" y1="1332.80" x2="539.90" y2="1341.40" stroke="#231f20" stroke-width="1.2"/>
<path d="M533.85,1367.50V1352.05" stroke="#231f20" stroke-width="1.8" fill="none"/>
<path d="M534.35,1352.25Q531.85,1353.05 529.45,1355.65" stroke="#231f20" stroke-width="1.7" fill="none" stroke-linecap="round"/>
<text transform="translate(537.31,1367.50) scale(1.1756,1)" font-size="22.60" fill="#231f20" style="stroke:none">0</text>
<line x1="620.62" y1="1332.80" x2="620.62" y2="1341.40" stroke="#231f20" stroke-width="1.2"/>
<path d="M615.67,1367.50V1352.05" stroke="#231f20" stroke-width="1.8" fill="none"/>
<path d="M616.17,1352.25Q613.67,1353.05 611.27,1355.65" stroke="#231f20" stroke-width="1.7" fill="none" stroke-linecap="round"/>
<text transform="translate(619.01,1367.50) scale(1.0198,1)" font-size="22.60" fill="#231f20" style="stroke:none">2</text>
<line x1="701.34" y1="1332.80" x2="701.34" y2="1341.40" stroke="#231f20" stroke-width="1.2"/>
<path d="M695.64,1367.50V1352.05" stroke="#231f20" stroke-width="1.8" fill="none"/>
<path d="M696.14,1352.25Q693.64,1353.05 691.24,1355.65" stroke="#231f20" stroke-width="1.7" fill="none" stroke-linecap="round"/>
<text transform="translate(699.59,1367.50) scale(1.0537,1)" font-size="22.60" fill="#231f20" style="stroke:none">4</text>
<line x1="782.06" y1="1332.80" x2="782.06" y2="1341.40" stroke="#231f20" stroke-width="1.2"/>
<path d="M776.86,1367.50V1352.05" stroke="#231f20" stroke-width="1.8" fill="none"/>
<path d="M777.36,1352.25Q774.86,1353.05 772.46,1355.65" stroke="#231f20" stroke-width="1.7" fill="none" stroke-linecap="round"/>
<text transform="translate(780.15,1367.50) scale(1.0548,1)" font-size="22.60" fill="#231f20" style="stroke:none">6</text>
<line x1="862.78" y1="1332.80" x2="862.78" y2="1341.40" stroke="#231f20" stroke-width="1.2"/>
<path d="M857.58,1367.50V1352.05" stroke="#231f20" stroke-width="1.8" fill="none"/>
<path d="M858.08,1352.25Q855.58,1353.05 853.18,1355.65" stroke="#231f20" stroke-width="1.7" fill="none" stroke-linecap="round"/>
<text transform="translate(861.06,1367.50) scale(1.0373,1)" font-size="22.60" fill="#231f20" style="stroke:none">8</text>
<line x1="943.50" y1="1332.80" x2="943.50" y2="1341.40" stroke="#231f20" stroke-width="1.2"/>
<text transform="translate(929.94,1367.50) scale(1.0198,1)" font-size="22.60" fill="#231f20" style="stroke:none">2</text>
<text transform="translate(942.16,1367.50) scale(1.1756,1)" font-size="22.60" fill="#231f20" style="stroke:none">0</text>
<text transform="translate(122.95,1294.60) scale(0.9893,1)" font-size="22.60" fill="#231f20" style="stroke:none">5</text>
<text transform="translate(135.01,1294.60) scale(1.1756,1)" font-size="22.60" fill="#231f20" style="stroke:none">0</text>
<text transform="translate(206.67,1294.60) scale(1.0537,1)" font-size="22.60" fill="#231f20" style="stroke:none">4</text>
<path d="M225.92,1294.60V1279.15" stroke="#231f20" stroke-width="1.8" fill="none"/>
<path d="M226.42,1279.35Q223.92,1280.15 221.52,1282.75" stroke="#231f20" stroke-width="1.7" fill="none" stroke-linecap="round"/>
<text transform="translate(285.85,1294.60) scale(0.9799,1)" font-size="22.60" fill="#231f20" style="stroke:none">3</text>
<text transform="translate(297.66,1294.60) scale(0.9734,1)" font-size="22.60" fill="#231f20" style="stroke:none">7</text>
<text transform="translate(365.57,1294.60) scale(0.9799,1)" font-size="22.60" fill="#231f20" style="stroke:none">3</text>
<text transform="translate(377.96,1294.60) scale(1.0537,1)" font-size="22.60" fill="#231f20" style="stroke:none">4</text>
<text transform="translate(445.94,1294.60) scale(0.9799,1)" font-size="22.60" fill="#231f20" style="stroke:none">3</text>
<text transform="translate(457.84,1294.60) scale(1.1756,1)" font-size="22.60" fill="#231f20" style="stroke:none">0</text>
<text transform="translate(526.69,1294.60) scale(1.0198,1)" font-size="22.60" fill="#231f20" style="stroke:none">2</text>
<text transform="translate(539.40,1294.60) scale(1.0537,1)" font-size="22.60" fill="#231f20" style="stroke:none">4</text>
<path d="M615.42,1294.60V1279.15" stroke="#231f20" stroke-width="1.8" fill="none"/>
<path d="M615.92,1279.35Q613.42,1280.15 611.02,1282.75" stroke="#231f20" stroke-width="1.7" fill="none" stroke-linecap="round"/>
<text transform="translate(618.80,1294.60) scale(1.0537,1)" font-size="22.60" fill="#231f20" style="stroke:none">9</text>
<path d="M695.64,1294.60V1279.15" stroke="#231f20" stroke-width="1.8" fill="none"/>
<path d="M696.14,1279.35Q693.64,1280.15 691.24,1282.75" stroke="#231f20" stroke-width="1.7" fill="none" stroke-linecap="round"/>
<text transform="translate(699.59,1294.60) scale(1.0537,1)" font-size="22.60" fill="#231f20" style="stroke:none">4</text>
<path d="M779.36,1294.60V1279.15" stroke="#231f20" stroke-width="1.8" fill="none"/>
<path d="M779.86,1279.35Q777.36,1280.15 774.96,1282.75" stroke="#231f20" stroke-width="1.7" fill="none" stroke-linecap="round"/>
<path d="M788.96,1294.60V1279.15" stroke="#231f20" stroke-width="1.8" fill="none"/>
<path d="M789.46,1279.35Q786.96,1280.15 784.56,1282.75" stroke="#231f20" stroke-width="1.7" fill="none" stroke-linecap="round"/>
<path d="M856.73,1294.60V1279.15" stroke="#231f20" stroke-width="1.8" fill="none"/>
<path d="M857.23,1279.35Q854.73,1280.15 852.33,1282.75" stroke="#231f20" stroke-width="1.7" fill="none" stroke-linecap="round"/>
<text transform="translate(860.19,1294.60) scale(1.1756,1)" font-size="22.60" fill="#231f20" style="stroke:none">0</text>
<text transform="translate(936.88,1294.60) scale(1.0537,1)" font-size="22.60" fill="#231f20" style="stroke:none">9</text>
<text transform="translate(124.05,1325.70) scale(0.9893,1)" font-size="22.60" fill="#231f20" style="stroke:none">5</text>
<text transform="translate(135.99,1325.70) scale(1.0198,1)" font-size="22.60" fill="#231f20" style="stroke:none">2</text>
<text transform="translate(204.42,1325.70) scale(1.0537,1)" font-size="22.60" fill="#231f20" style="stroke:none">4</text>
<text transform="translate(217.41,1325.70) scale(1.0198,1)" font-size="22.60" fill="#231f20" style="stroke:none">2</text>
<text transform="translate(285.35,1325.70) scale(0.9799,1)" font-size="22.60" fill="#231f20" style="stroke:none">3</text>
<text transform="translate(297.17,1325.70) scale(1.0537,1)" font-size="22.60" fill="#231f20" style="stroke:none">9</text>
<text transform="translate(366.32,1325.70) scale(0.9799,1)" font-size="22.60" fill="#231f20" style="stroke:none">3</text>
<text transform="translate(378.42,1325.70) scale(0.9799,1)" font-size="22.60" fill="#231f20" style="stroke:none">3</text>
<text transform="translate(446.47,1325.70) scale(1.0198,1)" font-size="22.60" fill="#231f20" style="stroke:none">2</text>
<text transform="translate(458.52,1325.70) scale(1.0548,1)" font-size="22.60" fill="#231f20" style="stroke:none">6</text>
<text transform="translate(526.34,1325.70) scale(1.0198,1)" font-size="22.60" fill="#231f20" style="stroke:none">2</text>
<text transform="translate(538.56,1325.70) scale(1.1756,1)" font-size="22.60" fill="#231f20" style="stroke:none">0</text>
<path d="M614.92,1325.70V1310.25" stroke="#231f20" stroke-width="1.8" fill="none"/>
<path d="M615.42,1310.45Q612.92,1311.25 610.52,1313.85" stroke="#231f20" stroke-width="1.7" fill="none" stroke-linecap="round"/>
<text transform="translate(618.87,1325.70) scale(1.0537,1)" font-size="22.60" fill="#231f20" style="stroke:none">4</text>
<path d="M696.39,1325.70V1310.25" stroke="#231f20" stroke-width="1.8" fill="none"/>
<path d="M696.89,1310.45Q694.39,1311.25 691.99,1313.85" stroke="#231f20" stroke-width="1.7" fill="none" stroke-linecap="round"/>
<text transform="translate(699.73,1325.70) scale(1.0198,1)" font-size="22.60" fill="#231f20" style="stroke:none">2</text>
<text transform="translate(775.93,1325.70) scale(0.9734,1)" font-size="22.60" fill="#231f20" style="stroke:none">7</text>
<text transform="translate(856.23,1325.70) scale(1.0537,1)" font-size="22.60" fill="#231f20" style="stroke:none">4</text>
<text transform="translate(937.09,1325.70) scale(1.0198,1)" font-size="22.60" fill="#231f20" style="stroke:none">2</text>
<text transform="translate(373.27,1428.00) scale(0.9505,1)" font-size="26.00" fill="#231f20" >PGS risk</text>
<line x1="489.40" y1="1420.00" x2="511.10" y2="1420.00" stroke="#fdc55c" stroke-width="3.8"/>
<line x1="596.30" y1="1420.00" x2="618.00" y2="1420.00" stroke="#b91c32" stroke-width="3.8"/>
<text transform="translate(527.59,1408.00) scale(1.0345,1)" font-size="26.00" fill="#231f20" >Low</text>
<text transform="translate(522.38,1438.60) scale(0.9506,1)" font-size="26.00" fill="#231f20" >&lt;20%</text>
<text transform="translate(645.96,1408.00) scale(1.0977,1)" font-size="26.00" fill="#231f20" >High</text>
<text transform="translate(643.91,1438.60) scale(0.9558,1)" font-size="26.00" fill="#231f20" >≥80%</text>
<text transform="translate(4.04,1484.30) scale(1.1241,1)" font-size="36.40" font-weight="bold" fill="#231f20" style="stroke:#231f20;stroke-width:1.6px;stroke-linejoin:round">c</text>
<line x1="92.30" y1="1474.20" x2="92.30" y2="1900.80" stroke="#231f20" stroke-width="1.2"/>
<line x1="91.70" y1="1900.20" x2="980.60" y2="1900.20" stroke="#231f20" stroke-width="1.2"/>
<line x1="83.40" y1="1493.30" x2="92.30" y2="1493.30" stroke="#231f20" stroke-width="1.2"/>
<text transform="translate(39.56,1500.70) scale(1.1756,1)" font-size="22.60" fill="#231f20" style="stroke:none">0</text>
<text transform="translate(54.01,1500.70) scale(1.0000,1)" font-size="22.60" fill="#231f20" style="stroke:none">.</text>
<text transform="translate(60.45,1500.70) scale(1.0537,1)" font-size="22.60" fill="#231f20" style="stroke:none">4</text>
<line x1="83.40" y1="1590.15" x2="92.30" y2="1590.15" stroke="#231f20" stroke-width="1.2"/>
<text transform="translate(41.06,1597.55) scale(1.1756,1)" font-size="22.60" fill="#231f20" style="stroke:none">0</text>
<text transform="translate(55.51,1597.55) scale(1.0000,1)" font-size="22.60" fill="#231f20" style="stroke:none">.</text>
<text transform="translate(61.66,1597.55) scale(0.9799,1)" font-size="22.60" fill="#231f20" style="stroke:none">3</text>
<line x1="83.40" y1="1687.00" x2="92.30" y2="1687.00" stroke="#231f20" stroke-width="1.2"/>
<text transform="translate(41.06,1694.40) scale(1.1756,1)" font-size="22.60" fill="#231f20" style="stroke:none">0</text>
<text transform="translate(55.51,1694.40) scale(1.0000,1)" font-size="22.60" fill="#231f20" style="stroke:none">.</text>
<text transform="translate(61.34,1694.40) scale(1.0198,1)" font-size="22.60" fill="#231f20" style="stroke:none">2</text>
<line x1="83.40" y1="1783.85" x2="92.30" y2="1783.85" stroke="#231f20" stroke-width="1.2"/>
<text transform="translate(44.06,1791.25) scale(1.1756,1)" font-size="22.60" fill="#231f20" style="stroke:none">0</text>
<text transform="translate(58.51,1791.25) scale(1.0000,1)" font-size="22.60" fill="#231f20" style="stroke:none">.</text>
<path d="M72.10,1791.25V1775.80" stroke="#231f20" stroke-width="1.8" fill="none"/>
<path d="M72.60,1776.00Q70.10,1776.80 67.70,1779.40" stroke="#231f20" stroke-width="1.7" fill="none" stroke-linecap="round"/>
<line x1="83.40" y1="1880.70" x2="92.30" y2="1880.70" stroke="#231f20" stroke-width="1.2"/>
<text transform="translate(59.26,1888.10) scale(1.1756,1)" font-size="22.60" fill="#231f20" style="stroke:none">0</text>
<line x1="132.90" y1="1900.20" x2="132.90" y2="1908.80" stroke="#231f20" stroke-width="1.2"/>
<text transform="translate(125.51,1935.80) scale(1.1756,1)" font-size="22.60" fill="#231f20" style="stroke:none">0</text>
<line x1="294.34" y1="1900.20" x2="294.34" y2="1908.80" stroke="#231f20" stroke-width="1.2"/>
<text transform="translate(287.93,1935.80) scale(1.0198,1)" font-size="22.60" fill="#231f20" style="stroke:none">2</text>
<line x1="455.78" y1="1900.20" x2="455.78" y2="1908.80" stroke="#231f20" stroke-width="1.2"/>
<text transform="translate(449.23,1935.80) scale(1.0537,1)" font-size="22.60" fill="#231f20" style="stroke:none">4</text>
<line x1="617.22" y1="1900.20" x2="617.22" y2="1908.80" stroke="#231f20" stroke-width="1.2"/>
<text transform="translate(610.51,1935.80) scale(1.0548,1)" font-size="22.60" fill="#231f20" style="stroke:none">6</text>
<line x1="778.66" y1="1900.20" x2="778.66" y2="1908.80" stroke="#231f20" stroke-width="1.2"/>
<text transform="translate(772.14,1935.80) scale(1.0373,1)" font-size="22.60" fill="#231f20" style="stroke:none">8</text>
<line x1="940.10" y1="1900.20" x2="940.10" y2="1908.80" stroke="#231f20" stroke-width="1.2"/>
<path d="M934.05,1935.80V1920.35" stroke="#231f20" stroke-width="1.8" fill="none"/>
<path d="M934.55,1920.55Q932.05,1921.35 929.65,1923.95" stroke="#231f20" stroke-width="1.7" fill="none" stroke-linecap="round"/>
<text transform="translate(937.51,1935.80) scale(1.1756,1)" font-size="22.60" fill="#231f20" style="stroke:none">0</text>
<text transform="translate(19.90,1721.85) rotate(-90) scale(0.9877,1)" font-size="26.50" fill="#231f20">Death</text>
<text transform="translate(107.92,1511.80) scale(0.9793,1)" font-size="26.00" fill="#231f20" >GeL</text>
<text transform="translate(108.33,1542.80) scale(0.8789,1)" font-size="26.00" fill="#231f20" >HR =</text>
<text transform="translate(167.93,1542.80) scale(1.0392,1)" font-size="26.00" fill="#231f20" >6.3</text>
<text transform="translate(212.33,1542.80) scale(0.9732,1)" font-size="26.00" fill="#231f20" >(95%</text>
<text transform="translate(278.68,1542.80) scale(0.9964,1)" font-size="26.00" fill="#231f20" >CI</text>
<text transform="translate(309.83,1542.80) scale(0.9723,1)" font-size="26.00" fill="#231f20" >2.7–14.8),</text>
<text transform="translate(430.85,1542.80) scale(0.8121,1)" font-size="26.00" font-style="italic" fill="#231f20" >P</text>
<text transform="translate(450.98,1542.80) scale(0.8846,1)" font-size="26.00" fill="#231f20" >= 1.4</text>
<text transform="translate(508.28,1542.80) scale(0.8973,1)" font-size="26.00" fill="#231f20" >×</text>
<text transform="translate(526.41,1542.80) scale(0.9566,1)" font-size="26.00" fill="#231f20" >10</text>
<text transform="translate(555.68,1534.00) scale(1.2321,1)" font-size="15.00" fill="#231f20" >-6</text>
<text transform="translate(409.32,1972.20) scale(1.0091,1)" font-size="26.00" fill="#231f20" >Years since diagnosis</text>
<path d="M133.10,1880.90H420.70V1872.40H492.60V1863.60H770.60V1849.20H789.60V1834.10H794.80V1819.00H959.20V1799.70H987.30" fill="none" stroke="#fdc55c" stroke-width="3.8" stroke-linejoin="round" stroke-linecap="butt"/>
<path d="M189.60,1873.30V1888.50M182.00,1880.90H197.20M216.50,1873.30V1888.50M208.90,1880.90H224.10M240.50,1873.30V1888.50M232.90,1880.90H248.10M304.10,1873.30V1888.50M296.50,1880.90H311.70M319.20,1873.30V1888.50M311.60,1880.90H326.80M338.50,1873.30V1888.50M330.90,1880.90H346.10M345.50,1873.30V1888.50M337.90,1880.90H353.10M352.40,1873.30V1888.50M344.80,1880.90H360.00M355.70,1873.30V1888.50M348.10,1880.90H363.30M358.70,1873.30V1888.50M351.10,1880.90H366.30M365.50,1873.30V1888.50M357.90,1880.90H373.10M368.60,1873.30V1888.50M361.00,1880.90H376.20M370.80,1873.30V1888.50M363.20,1880.90H378.40M378.40,1873.30V1888.50M370.80,1880.90H386.00M381.70,1873.30V1888.50M374.10,1880.90H389.30M401.40,1873.30V1888.50M393.80,1880.90H409.00M403.80,1873.30V1888.50M396.20,1880.90H411.40M420.70,1864.80V1880.00M413.10,1872.40H428.30M427.50,1864.80V1880.00M419.90,1872.40H435.10M445.30,1864.80V1880.00M437.70,1872.40H452.90M462.50,1864.80V1880.00M454.90,1872.40H470.10M471.50,1864.80V1880.00M463.90,1872.40H479.10M475.60,1864.80V1880.00M468.00,1872.40H483.20M501.50,1856.00V1871.20M493.90,1863.60H509.10M509.80,1856.00V1871.20M502.20,1863.60H517.40M512.20,1856.00V1871.20M504.60,1863.60H519.80M514.60,1856.00V1871.20M507.00,1863.60H522.20M518.20,1856.00V1871.20M510.60,1863.60H525.80M522.30,1856.00V1871.20M514.70,1863.60H529.90M524.30,1856.00V1871.20M516.70,1863.60H531.90M526.30,1856.00V1871.20M518.70,1863.60H533.90M529.50,1856.00V1871.20M521.90,1863.60H537.10M547.50,1856.00V1871.20M539.90,1863.60H555.10M549.50,1856.00V1871.20M541.90,1863.60H557.10M551.50,1856.00V1871.20M543.90,1863.60H559.10M574.60,1856.00V1871.20M567.00,1863.60H582.20M588.60,1856.00V1871.20M581.00,1863.60H596.20M610.60,1856.00V1871.20M603.00,1863.60H618.20M630.50,1856.00V1871.20M622.90,1863.60H638.10M634.60,1856.00V1871.20M627.00,1863.60H642.20M641.40,1856.00V1871.20M633.80,1863.60H649.00M644.30,1856.00V1871.20M636.70,1863.60H651.90M646.50,1856.00V1871.20M638.90,1863.60H654.10M654.40,1856.00V1871.20M646.80,1863.60H662.00M666.40,1856.00V1871.20M658.80,1863.60H674.00M687.70,1856.00V1871.20M680.10,1863.60H695.30M691.30,1856.00V1871.20M683.70,1863.60H698.90M695.70,1856.00V1871.20M688.10,1863.60H703.30M697.50,1856.00V1871.20M689.90,1863.60H705.10M706.60,1856.00V1871.20M699.00,1863.60H714.20M709.40,1856.00V1871.20M701.80,1863.60H717.00M713.50,1856.00V1871.20M705.90,1863.60H721.10M715.50,1856.00V1871.20M707.90,1863.60H723.10M721.30,1856.00V1871.20M713.70,1863.60H728.90M722.70,1856.00V1871.20M715.10,1863.60H730.30M724.40,1856.00V1871.20M716.80,1863.60H732.00M729.70,1856.00V1871.20M722.10,1863.60H737.30M731.60,1856.00V1871.20M724.00,1863.60H739.20M740.50,1856.00V1871.20M732.90,1863.60H748.10M748.50,1856.00V1871.20M740.90,1863.60H756.10M770.60,1841.60V1856.80M763.00,1849.20H778.20M782.10,1841.60V1856.80M774.50,1849.20H789.70M802.60,1811.40V1826.60M795.00,1819.00H810.20M804.20,1811.40V1826.60M796.60,1819.00H811.80M819.00,1811.40V1826.60M811.40,1819.00H826.60M840.40,1811.40V1826.60M832.80,1819.00H848.00M864.20,1811.40V1826.60M856.60,1819.00H871.80M884.70,1811.40V1826.60M877.10,1819.00H892.30M892.20,1811.40V1826.60M884.60,1819.00H899.80M932.50,1811.40V1826.60M924.90,1819.00H940.10M941.40,1811.40V1826.60M933.80,1819.00H949.00M950.40,1811.40V1826.60M942.80,1819.00H958.00M967.80,1792.10V1807.30M960.20,1799.70H975.40" fill="none" stroke="#fdc55c" stroke-width="1.8"/>
<path d="M133.10,1880.90V1866.80H141.80V1852.30H146.20V1844.60H158.30V1837.10H179.50V1829.40H184.60V1822.40H287.10V1813.80H310.10V1805.10H328.30V1795.50H346.80V1786.80H422.10V1777.30H470.50V1766.30H636.00V1750.80H679.20V1734.20H693.90V1717.10H708.40V1699.30H752.40V1680.70H756.90V1662.20H766.00V1642.00H835.70V1617.60H987.30" fill="none" stroke="#b91c32" stroke-width="3.8" stroke-linejoin="round" stroke-linecap="butt"/>
<path d="M179.50,1829.50V1844.70M171.90,1837.10H187.10M188.50,1814.80V1830.00M180.90,1822.40H196.10M199.40,1814.80V1830.00M191.80,1822.40H207.00M205.40,1814.80V1830.00M197.80,1822.40H213.00M217.50,1814.80V1830.00M209.90,1822.40H225.10M219.50,1814.80V1830.00M211.90,1822.40H227.10M221.60,1814.80V1830.00M214.00,1822.40H229.20M225.60,1814.80V1830.00M218.00,1822.40H233.20M228.00,1814.80V1830.00M220.40,1822.40H235.60M230.40,1814.80V1830.00M222.80,1822.40H238.00M236.10,1814.80V1830.00M228.50,1822.40H243.70M251.40,1814.80V1830.00M243.80,1822.40H259.00M254.70,1814.80V1830.00M247.10,1822.40H262.30M281.50,1814.80V1830.00M273.90,1822.40H289.10M287.50,1806.20V1821.40M279.90,1813.80H295.10M299.20,1806.20V1821.40M291.60,1813.80H306.80M307.70,1806.20V1821.40M300.10,1813.80H315.30M320.20,1797.50V1812.70M312.60,1805.10H327.80M328.30,1787.90V1803.10M320.70,1795.50H335.90M373.70,1779.20V1794.40M366.10,1786.80H381.30M376.70,1779.20V1794.40M369.10,1786.80H384.30M403.30,1779.20V1794.40M395.70,1786.80H410.90M412.40,1779.20V1794.40M404.80,1786.80H420.00M424.70,1769.70V1784.90M417.10,1777.30H432.30M444.30,1769.70V1784.90M436.70,1777.30H451.90M450.40,1769.70V1784.90M442.80,1777.30H458.00M465.50,1769.70V1784.90M457.90,1777.30H473.10M471.20,1758.70V1773.90M463.60,1766.30H478.80M481.10,1758.70V1773.90M473.50,1766.30H488.70M494.40,1758.70V1773.90M486.80,1766.30H502.00M509.40,1758.70V1773.90M501.80,1766.30H517.00M513.50,1758.70V1773.90M505.90,1766.30H521.10M515.20,1758.70V1773.90M507.60,1766.30H522.80M516.80,1758.70V1773.90M509.20,1766.30H524.40M521.50,1758.70V1773.90M513.90,1766.30H529.10M523.20,1758.70V1773.90M515.60,1766.30H530.80M524.70,1758.70V1773.90M517.10,1766.30H532.30M530.50,1758.70V1773.90M522.90,1766.30H538.10M542.20,1758.70V1773.90M534.60,1766.30H549.80M543.70,1758.70V1773.90M536.10,1766.30H551.30M545.30,1758.70V1773.90M537.70,1766.30H552.90M549.10,1758.70V1773.90M541.50,1766.30H556.70M550.40,1758.70V1773.90M542.80,1766.30H558.00M557.40,1758.70V1773.90M549.80,1766.30H565.00M563.60,1758.70V1773.90M556.00,1766.30H571.20M571.70,1758.70V1773.90M564.10,1766.30H579.30M576.50,1758.70V1773.90M568.90,1766.30H584.10M582.60,1758.70V1773.90M575.00,1766.30H590.20M586.60,1758.70V1773.90M579.00,1766.30H594.20M590.50,1758.70V1773.90M582.90,1766.30H598.10M601.30,1758.70V1773.90M593.70,1766.30H608.90M603.60,1758.70V1773.90M596.00,1766.30H611.20M607.60,1758.70V1773.90M600.00,1766.30H615.20M611.70,1758.70V1773.90M604.10,1766.30H619.30M616.50,1758.70V1773.90M608.90,1766.30H624.10M618.80,1758.70V1773.90M611.20,1766.30H626.40M647.50,1743.20V1758.40M639.90,1750.80H655.10M656.60,1743.20V1758.40M649.00,1750.80H664.20M679.20,1743.20V1758.40M671.60,1750.80H686.80M704.00,1709.50V1724.70M696.40,1717.10H711.60M722.60,1691.70V1706.90M715.00,1699.30H730.20M727.60,1691.70V1706.90M720.00,1699.30H735.20M765.30,1654.60V1669.80M757.70,1662.20H772.90M779.50,1634.40V1649.60M771.90,1642.00H787.10M793.20,1634.40V1649.60M785.60,1642.00H800.80M797.20,1634.40V1649.60M789.60,1642.00H804.80M810.40,1634.40V1649.60M802.80,1642.00H818.00M820.40,1634.40V1649.60M812.80,1642.00H828.00M822.50,1634.40V1649.60M814.90,1642.00H830.10M829.50,1634.40V1649.60M821.90,1642.00H837.10M838.50,1610.00V1625.20M830.90,1617.60H846.10M869.50,1610.00V1625.20M861.90,1617.60H877.10M882.30,1610.00V1625.20M874.70,1617.60H889.90M886.50,1610.00V1625.20M878.90,1617.60H894.10M888.80,1610.00V1625.20M881.20,1617.60H896.40M895.50,1610.00V1625.20M887.90,1617.60H903.10M935.30,1610.00V1625.20M927.70,1617.60H942.90M940.50,1610.00V1625.20M932.90,1617.60H948.10M949.40,1610.00V1625.20M941.80,1617.60H957.00" fill="none" stroke="#b91c32" stroke-width="1.8"/>
<text transform="translate(95.50,2020.00) scale(1.0309,1)" font-size="26.00" fill="#231f20" >Number at risk</text>
<text transform="translate(30.73,2052.05) scale(1.0169,1)" font-size="26.00" fill="#231f20" >Low</text>
<text transform="translate(24.64,2082.90) scale(1.0614,1)" font-size="26.00" fill="#231f20" >High</text>
<line x1="92.40" y1="2032.10" x2="92.40" y2="2095.90" stroke="#231f20" stroke-width="1.2"/>
<line x1="91.80" y1="2095.30" x2="980.60" y2="2095.30" stroke="#231f20" stroke-width="1.2"/>
<line x1="132.90" y1="2095.30" x2="132.90" y2="2103.90" stroke="#231f20" stroke-width="1.2"/>
<text transform="translate(125.51,2130.40) scale(1.1756,1)" font-size="22.60" fill="#231f20" style="stroke:none">0</text>
<line x1="294.34" y1="2095.30" x2="294.34" y2="2103.90" stroke="#231f20" stroke-width="1.2"/>
<text transform="translate(287.93,2130.40) scale(1.0198,1)" font-size="22.60" fill="#231f20" style="stroke:none">2</text>
<line x1="455.78" y1="2095.30" x2="455.78" y2="2103.90" stroke="#231f20" stroke-width="1.2"/>
<text transform="translate(449.23,2130.40) scale(1.0537,1)" font-size="22.60" fill="#231f20" style="stroke:none">4</text>
<line x1="617.22" y1="2095.30" x2="617.22" y2="2103.90" stroke="#231f20" stroke-width="1.2"/>
<text transform="translate(610.51,2130.40) scale(1.0548,1)" font-size="22.60" fill="#231f20" style="stroke:none">6</text>
<line x1="778.66" y1="2095.30" x2="778.66" y2="2103.90" stroke="#231f20" stroke-width="1.2"/>
<text transform="translate(772.14,2130.40) scale(1.0373,1)" font-size="22.60" fill="#231f20" style="stroke:none">8</text>
<line x1="940.10" y1="2095.30" x2="940.10" y2="2103.90" stroke="#231f20" stroke-width="1.2"/>
<path d="M934.05,2130.40V2114.95" stroke="#231f20" stroke-width="1.8" fill="none"/>
<path d="M934.55,2115.15Q932.05,2115.95 929.65,2118.55" stroke="#231f20" stroke-width="1.7" fill="none" stroke-linecap="round"/>
<text transform="translate(937.51,2130.40) scale(1.1756,1)" font-size="22.60" fill="#231f20" style="stroke:none">0</text>
<path d="M121.65,2057.80V2042.35" stroke="#231f20" stroke-width="1.8" fill="none"/>
<path d="M122.15,2042.55Q119.65,2043.35 117.25,2045.95" stroke="#231f20" stroke-width="1.7" fill="none" stroke-linecap="round"/>
<text transform="translate(125.31,2057.80) scale(0.9799,1)" font-size="22.60" fill="#231f20" style="stroke:none">3</text>
<text transform="translate(137.04,2057.80) scale(1.0548,1)" font-size="22.60" fill="#231f20" style="stroke:none">6</text>
<path d="M283.34,2057.80V2042.35" stroke="#231f20" stroke-width="1.8" fill="none"/>
<path d="M283.84,2042.55Q281.34,2043.35 278.94,2045.95" stroke="#231f20" stroke-width="1.7" fill="none" stroke-linecap="round"/>
<text transform="translate(287.00,2057.80) scale(0.9799,1)" font-size="22.60" fill="#231f20" style="stroke:none">3</text>
<text transform="translate(299.10,2057.80) scale(0.9799,1)" font-size="22.60" fill="#231f20" style="stroke:none">3</text>
<path d="M445.28,2057.80V2042.35" stroke="#231f20" stroke-width="1.8" fill="none"/>
<path d="M445.78,2042.55Q443.28,2043.35 440.88,2045.95" stroke="#231f20" stroke-width="1.7" fill="none" stroke-linecap="round"/>
<path d="M454.88,2057.80V2042.35" stroke="#231f20" stroke-width="1.8" fill="none"/>
<path d="M455.38,2042.55Q452.88,2043.35 450.48,2045.95" stroke="#231f20" stroke-width="1.7" fill="none" stroke-linecap="round"/>
<text transform="translate(458.83,2057.80) scale(1.0537,1)" font-size="22.60" fill="#231f20" style="stroke:none">4</text>
<text transform="translate(604.55,2057.80) scale(1.0537,1)" font-size="22.60" fill="#231f20" style="stroke:none">9</text>
<text transform="translate(617.11,2057.80) scale(1.0198,1)" font-size="22.60" fill="#231f20" style="stroke:none">2</text>
<text transform="translate(765.65,2057.80) scale(1.0548,1)" font-size="22.60" fill="#231f20" style="stroke:none">6</text>
<text transform="translate(778.25,2057.80) scale(1.0548,1)" font-size="22.60" fill="#231f20" style="stroke:none">6</text>
<text transform="translate(927.85,2057.80) scale(0.9893,1)" font-size="22.60" fill="#231f20" style="stroke:none">5</text>
<text transform="translate(939.79,2057.80) scale(1.0198,1)" font-size="22.60" fill="#231f20" style="stroke:none">2</text>
<path d="M122.15,2087.80V2072.35" stroke="#231f20" stroke-width="1.8" fill="none"/>
<path d="M122.65,2072.55Q120.15,2073.35 117.75,2075.95" stroke="#231f20" stroke-width="1.7" fill="none" stroke-linecap="round"/>
<text transform="translate(125.81,2087.80) scale(0.9799,1)" font-size="22.60" fill="#231f20" style="stroke:none">3</text>
<text transform="translate(137.62,2087.80) scale(0.9734,1)" font-size="22.60" fill="#231f20" style="stroke:none">7</text>
<path d="M286.84,2087.80V2072.35" stroke="#231f20" stroke-width="1.8" fill="none"/>
<path d="M287.34,2072.55Q284.84,2073.35 282.44,2075.95" stroke="#231f20" stroke-width="1.7" fill="none" stroke-linecap="round"/>
<path d="M296.44,2087.80V2072.35" stroke="#231f20" stroke-width="1.8" fill="none"/>
<path d="M296.94,2072.55Q294.44,2073.35 292.04,2075.95" stroke="#231f20" stroke-width="1.7" fill="none" stroke-linecap="round"/>
<path d="M306.04,2087.80V2072.35" stroke="#231f20" stroke-width="1.8" fill="none"/>
<path d="M306.54,2072.55Q304.04,2073.35 301.64,2075.95" stroke="#231f20" stroke-width="1.7" fill="none" stroke-linecap="round"/>
<text transform="translate(442.36,2087.80) scale(1.0537,1)" font-size="22.60" fill="#231f20" style="stroke:none">9</text>
<text transform="translate(455.53,2087.80) scale(1.0537,1)" font-size="22.60" fill="#231f20" style="stroke:none">4</text>
<text transform="translate(603.71,2087.80) scale(1.0548,1)" font-size="22.60" fill="#231f20" style="stroke:none">6</text>
<text transform="translate(616.97,2087.80) scale(1.0537,1)" font-size="22.60" fill="#231f20" style="stroke:none">4</text>
<text transform="translate(765.81,2087.80) scale(1.0537,1)" font-size="22.60" fill="#231f20" style="stroke:none">4</text>
<text transform="translate(778.94,2087.80) scale(1.0373,1)" font-size="22.60" fill="#231f20" style="stroke:none">8</text>
<text transform="translate(930.21,2087.80) scale(0.9799,1)" font-size="22.60" fill="#231f20" style="stroke:none">3</text>
<path d="M948.25,2087.80V2072.35" stroke="#231f20" stroke-width="1.8" fill="none"/>
<path d="M948.75,2072.55Q946.25,2073.35 943.85,2075.95" stroke="#231f20" stroke-width="1.7" fill="none" stroke-linecap="round"/>
<text transform="translate(370.67,2190.00) scale(0.9505,1)" font-size="26.00" fill="#231f20" >PGS risk</text>
<line x1="486.00" y1="2182.70" x2="507.80" y2="2182.70" stroke="#fdc55c" stroke-width="3.8"/>
<line x1="592.50" y1="2182.70" x2="614.30" y2="2182.70" stroke="#b91c32" stroke-width="3.8"/>
<text transform="translate(524.89,2170.70) scale(1.0345,1)" font-size="26.00" fill="#231f20" >Low</text>
<text transform="translate(518.58,2200.80) scale(0.9506,1)" font-size="26.00" fill="#231f20" >&lt;20%</text>
<text transform="translate(642.76,2170.70) scale(1.0977,1)" font-size="26.00" fill="#231f20" >High</text>
<text transform="translate(639.60,2200.80) scale(0.9744,1)" font-size="26.00" fill="#231f20" >≥80%</text>
</svg>
</body></html>
